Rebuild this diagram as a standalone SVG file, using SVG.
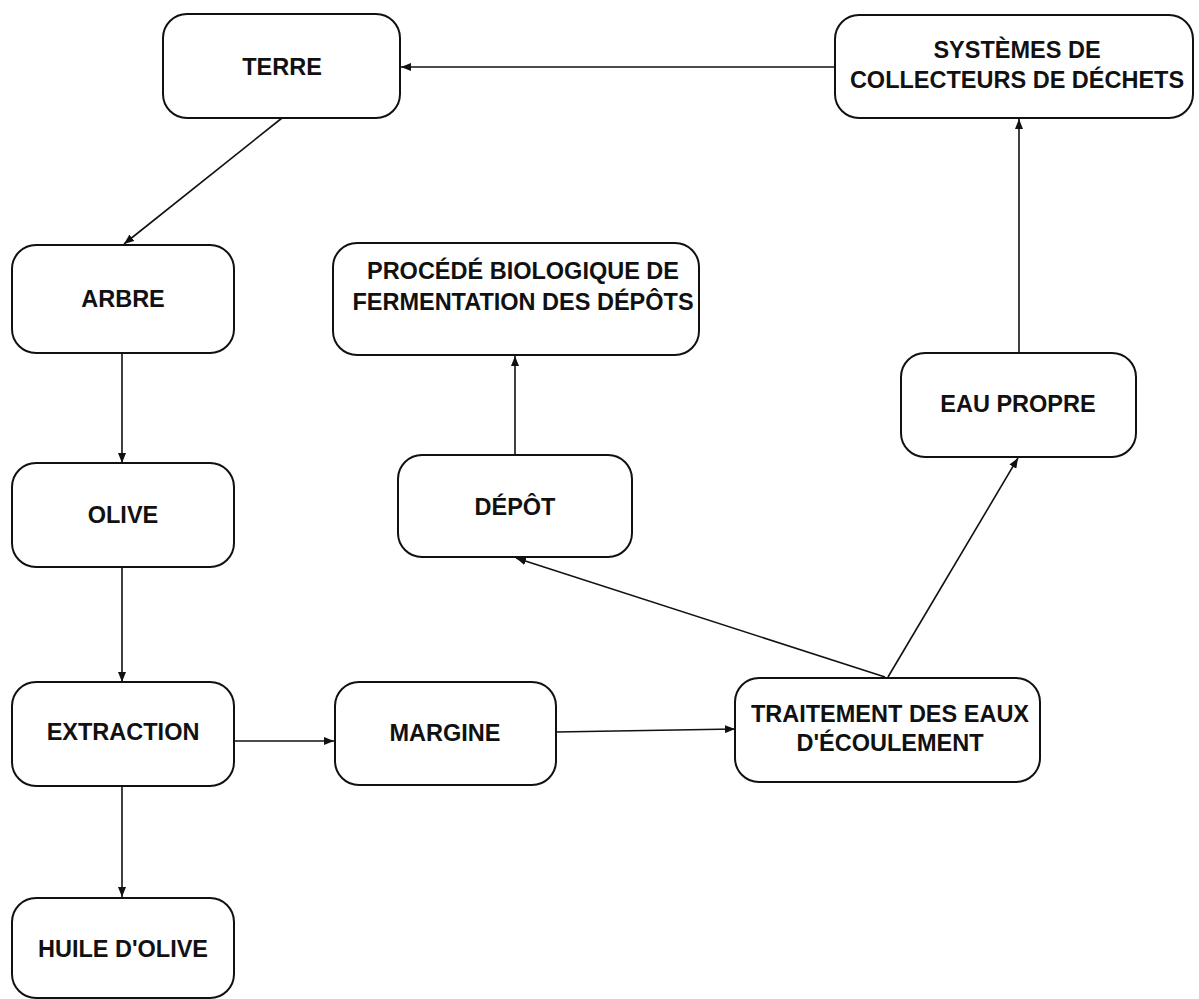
<svg xmlns="http://www.w3.org/2000/svg" width="1199" height="999" viewBox="0 0 1199 999">
<style>
.box{fill:#fff;stroke:#111;stroke-width:2}
.t{font-family:"Liberation Sans",Arial,sans-serif;font-weight:bold;font-size:23.5px;fill:#111;text-anchor:middle}
.c{stroke:#111;stroke-width:1.6;fill:none;marker-end:url(#ah)}
</style>
<defs>
<marker id="ah" viewBox="0 0 10 8" refX="10" refY="4" markerWidth="10" markerHeight="8" markerUnits="userSpaceOnUse" orient="auto">
<path d="M0,0 L10,4 L0,8 Z" fill="#111"/>
</marker>
</defs>
<rect width="1199" height="999" fill="#fff"/>
<g id="connectors">
<line class="c" x1="834" y1="67" x2="401" y2="67"/>
<line class="c" x1="282" y1="118" x2="124" y2="244"/>
<line class="c" x1="122" y1="354" x2="122" y2="463"/>
<line class="c" x1="122" y1="567" x2="122" y2="682"/>
<line class="c" x1="122" y1="786" x2="122" y2="897"/>
<line class="c" x1="233" y1="741" x2="334" y2="741"/>
<line class="c" x1="556" y1="732" x2="735" y2="729"/>
<line class="c" x1="885" y1="677" x2="516" y2="558"/>
<line class="c" x1="888" y1="677" x2="1018" y2="458"/>
<line class="c" x1="515" y1="455" x2="515" y2="356"/>
<line class="c" x1="1019" y1="353" x2="1019" y2="119"/>
</g>
<g id="terre"><rect class="box" x="163" y="14" width="237" height="104" rx="24"/><text class="t" x="282" y="75">TERRE</text></g>
<g id="systemes"><rect class="box" x="835" y="15" width="358" height="103" rx="24"/><text class="t" x="1017" y="58">SYSTÈMES DE</text><text class="t" x="1017" y="88">COLLECTEURS DE DÉCHETS</text></g>
<g id="arbre"><rect class="box" x="12" y="245" width="222" height="108" rx="24"/><text class="t" x="123" y="307">ARBRE</text></g>
<g id="procede"><rect class="box" x="333" y="243" width="366" height="112" rx="24"/><text class="t" x="523" y="279">PROCÉDÉ BIOLOGIQUE DE</text><text class="t" x="523" y="310">FERMENTATION DES DÉPÔTS</text></g>
<g id="eau"><rect class="box" x="901" y="353" width="235" height="104" rx="24"/><text class="t" x="1018" y="412">EAU PROPRE</text></g>
<g id="olive"><rect class="box" x="12" y="463" width="222" height="104" rx="24"/><text class="t" x="123" y="523">OLIVE</text></g>
<g id="depot"><rect class="box" x="398" y="455" width="234" height="102" rx="24"/><text class="t" x="515" y="515">DÉPÔT</text></g>
<g id="extraction"><rect class="box" x="12" y="682" width="222" height="104" rx="24"/><text class="t" x="123" y="740">EXTRACTION</text></g>
<g id="margine"><rect class="box" x="335" y="682" width="221" height="103" rx="24"/><text class="t" x="445" y="741">MARGINE</text></g>
<g id="traitement"><rect class="box" x="735" y="678" width="305" height="104" rx="24"/><text class="t" x="890" y="722">TRAITEMENT DES EAUX</text><text class="t" x="890" y="751">D'ÉCOULEMENT</text></g>
<g id="huile"><rect class="box" x="12" y="898" width="222" height="100" rx="24"/><text class="t" x="123" y="957">HUILE D'OLIVE</text></g>
</svg>
